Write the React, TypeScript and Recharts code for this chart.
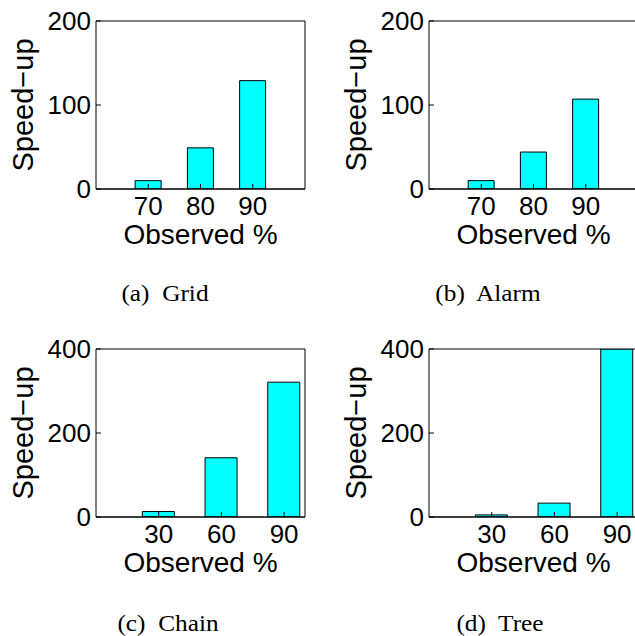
import { BarChart, Bar, XAxis, YAxis } from 'recharts'

// observed percentages (x) and measured speed-ups (y) per network
const gridObserved = [70, 80, 90]
const gridSpeedup = [10, 49, 129]

const alarmObserved = [70, 80, 90]
const alarmSpeedup = [10, 44, 107]

const chainObserved = [30, 60, 90]
const chainSpeedup = [13, 141, 321]

const treeObserved = [30, 60, 90]
const treeSpeedup = [5, 33, 400]

const smallYTicks = [0, 100, 200]
const largeYTicks = [0, 200, 400]

const AXIS_FONT = 'Liberation Sans, Arial, sans-serif'
const CAPTION_FONT = 'Liberation Serif, Times New Roman, serif'

interface PanelProps {
  observed: number[]
  speedup: number[]
  xDomain: [number, number]
  yTicks: number[]
  left: number
  top: number
  axisWidth: number
  rightGap: number
  labelOffset: number
  barSize: number
  caption: string
  captionX: number
  captionTop: number
}

function Panel(p: PanelProps) {
  const rows = p.observed.map((x, i) => ({ x, value: p.speedup[i] }))
  const yDomain: [number, number] = [p.yTicks[0], p.yTicks[p.yTicks.length - 1]]
  const tickStyle = { fontSize: 26, fill: '#000', fontFamily: AXIS_FONT }

  return (
    <>
      <div style={{ position: 'absolute', left: p.left, top: p.top }}>
        <BarChart
          width={320}
          height={250}
          data={rows}
          margin={{ top: 20, right: p.rightGap - 1, bottom: 6, left: 0 }}
          style={{ fontFamily: AXIS_FONT }}
        >
          <XAxis
            xAxisId="b"
            type="number"
            dataKey="x"
            domain={p.xDomain}
            ticks={p.observed}
            allowDataOverflow
            height={55}
            tickSize={-5}
            tickMargin={13}
            tick={tickStyle}
            axisLine={{ stroke: '#000', strokeWidth: 1.5 }}
            tickLine={{ stroke: '#000' }}
            label={{ value: 'Observed %', position: 'insideBottom', offset: 0, fontSize: 28, fill: '#000' }}
          />
          {/* top edge of the box, ticks only */}
          <XAxis
            xAxisId="t"
            orientation="top"
            type="number"
            dataKey="x"
            domain={p.xDomain}
            ticks={p.observed}
            allowDataOverflow
            height={1}
            tickSize={-5}
            tick={false}
            axisLine={{ stroke: '#000' }}
            tickLine={{ stroke: '#000' }}
          />
          <YAxis
            yAxisId="l"
            domain={yDomain}
            ticks={p.yTicks}
            allowDataOverflow
            width={p.axisWidth}
            tickSize={-5}
            tickMargin={10}
            tick={tickStyle}
            axisLine={{ stroke: '#000' }}
            tickLine={{ stroke: '#000' }}
            label={{
              value: 'Speed\u2212up',
              angle: -90,
              position: 'insideLeft',
              offset: p.labelOffset,
              fontSize: 29,
              fill: '#000',
              style: { textAnchor: 'middle' },
            }}
          />
          {/* right edge of the box */}
          <YAxis
            yAxisId="r"
            orientation="right"
            domain={yDomain}
            ticks={p.yTicks}
            allowDataOverflow
            width={1}
            tickSize={-5}
            tick={false}
            axisLine={{ stroke: '#000' }}
            tickLine={{ stroke: '#000' }}
          />
          <Bar
            xAxisId="b"
            yAxisId="l"
            dataKey="value"
            fill="#00FFFF"
            stroke="#000"
            strokeWidth={1}
            barSize={p.barSize}
            isAnimationActive={false}
          />
        </BarChart>
      </div>
      <div
        style={{
          position: 'absolute',
          left: p.captionX - 100,
          top: p.captionTop,
          width: 200,
          textAlign: 'center',
          fontFamily: CAPTION_FONT,
          fontSize: 23,
          lineHeight: '23px',
          whiteSpace: 'pre',
          transform: 'scaleX(1.1)',
        }}
      >
        {p.caption}
      </div>
    </>
  )
}

export default function App() {
  return (
    <div
      style={{
        position: 'absolute',
        left: 0,
        top: 0,
        width: 635,
        height: 636,
        overflow: 'hidden',
        background: '#fff',
      }}
    >
      <Panel
        observed={gridObserved}
        speedup={gridSpeedup}
        xDomain={[60, 100]}
        yTicks={smallYTicks}
        left={0}
        top={0}
        axisWidth={96}
        rightGap={15}
        labelOffset={22.5}
        barSize={26}
        caption={'(a)  Grid'}
        captionX={165}
        captionTop={282}
      />
      <Panel
        observed={alarmObserved}
        speedup={alarmSpeedup}
        xDomain={[60, 100]}
        yTicks={smallYTicks}
        left={320}
        top={0}
        axisWidth={109}
        rightGap={2}
        labelOffset={35.5}
        barSize={26}
        caption={'(b)  Alarm'}
        captionX={488}
        captionTop={282}
      />
      <Panel
        observed={chainObserved}
        speedup={chainSpeedup}
        xDomain={[0, 100]}
        yTicks={largeYTicks}
        left={0}
        top={328}
        axisWidth={96}
        rightGap={15}
        labelOffset={22.5}
        barSize={32}
        caption={'(c)  Chain'}
        captionX={168}
        captionTop={612}
      />
      <Panel
        observed={treeObserved}
        speedup={treeSpeedup}
        xDomain={[0, 100]}
        yTicks={largeYTicks}
        left={320}
        top={328}
        axisWidth={109}
        rightGap={2}
        labelOffset={35.5}
        barSize={32}
        caption={'(d)  Tree'}
        captionX={500}
        captionTop={612}
      />
    </div>
  )
}
